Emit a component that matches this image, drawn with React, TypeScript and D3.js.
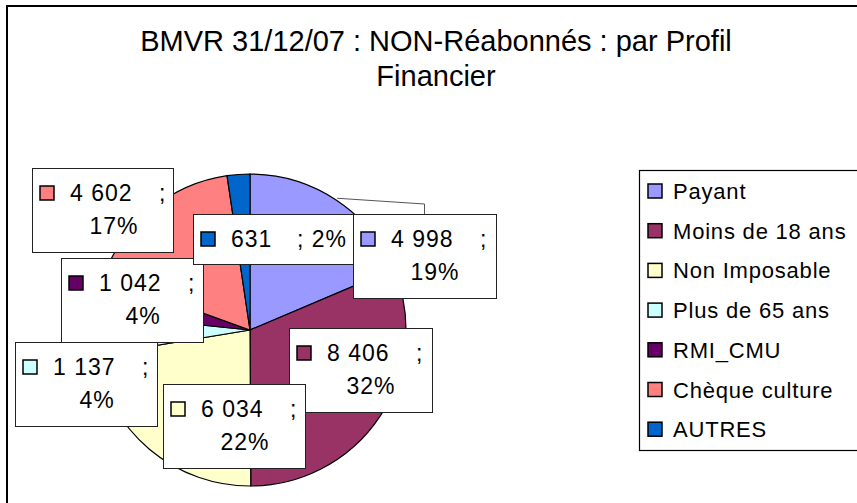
import { useEffect, useRef } from "react";
import * as d3 from "d3";

const WIDTH = 857;
const HEIGHT = 503;
const CENTER = { x: 250, y: 330 };
const RADIUS = 156;

const categories = [
  "Payant",
  "Moins de 18 ans",
  "Non Imposable",
  "Plus de 65 ans",
  "RMI_CMU",
  "Chèque culture",
  "AUTRES",
];
const values = [4998, 8406, 6034, 1137, 1042, 4602, 631];
// percentages as printed on the labels
const percentLabels = ["19%", "32%", "22%", "4%", "4%", "17%", "2%"];
const colors = ["#9999FF", "#993366", "#FFFFCC", "#CCFFFF", "#660066", "#FF8080", "#0066CC"];

// label box placement (top-left corner), same order as categories
const LABEL_BOXES = [
  { x: 353, y: 214, w: 143, h: 84, leader: true },
  { x: 289, y: 328, w: 143, h: 84 },
  { x: 163, y: 384, w: 142, h: 84 },
  { x: 15, y: 342, w: 142, h: 84 },
  { x: 61, y: 258, w: 142, h: 84 },
  { x: 32, y: 168, w: 141, h: 84 },
  { x: 193, y: 214, w: 160, h: 50, oneLine: true },
];

const FONT = "'Liberation Sans', Arial, sans-serif";

type Slice = { label: string; value: number; pct: string; color: string };

export default function App() {
  const svgRef = useRef<SVGSVGElement | null>(null);

  useEffect(() => {
    if (!svgRef.current) return;
    const svg = d3.select(svgRef.current);
    svg.selectAll("*").remove();

    const data: Slice[] = categories.map((c, i) => ({
      label: c,
      value: values[i],
      pct: percentLabels[i],
      color: colors[i],
    }));

    const fmt = d3.formatLocale({ decimal: ",", thousands: " ", grouping: [3], currency: ["", "€"] }).format(",d");

    // chart frame (right and bottom edges fall outside the picture)
    svg
      .append("rect")
      .attr("x", 7)
      .attr("y", 6)
      .attr("width", WIDTH + 20)
      .attr("height", HEIGHT + 20)
      .attr("fill", "#fff")
      .attr("stroke", "#000")
      .attr("stroke-width", 2);

    // Title
    const title = svg
      .append("text")
      .attr("text-anchor", "middle")
      .attr("font-family", FONT)
      .style("font-size", "29px")
      .attr("fill", "#000");
    title.append("tspan").attr("x", 436).attr("y", 51).text("BMVR 31/12/07 : NON-Réabonnés : par Profil");
    title.append("tspan").attr("x", 436).attr("y", 86).text("Financier");

    // Pie
    const pie = d3
      .pie<Slice>()
      .sort(null)
      .value((d) => d.value);
    const arcs = pie(data);
    const arc = d3.arc<d3.PieArcDatum<Slice>>().innerRadius(0).outerRadius(RADIUS);

    const g = svg.append("g").attr("transform", `translate(${CENTER.x},${CENTER.y})`);
    g.selectAll("path")
      .data(arcs)
      .enter()
      .append("path")
      .attr("d", arc)
      .attr("fill", (d) => d.data.color)
      .attr("stroke", "#000")
      .attr("stroke-width", 1.2);

    // Data labels
    arcs.forEach((a, i) => {
      const box = LABEL_BOXES[i];
      if (box.leader) {
        const mid = (a.startAngle + a.endAngle) / 2;
        const sx = CENTER.x + Math.sin(mid) * (RADIUS + 2);
        const sy = CENTER.y - Math.cos(mid) * (RADIUS + 2);
        const cx = box.x + box.w / 2;
        svg
          .append("polyline")
          .attr("points", `${sx},${sy} ${cx},${box.y - 10} ${cx},${box.y}`)
          .attr("fill", "none")
          .attr("stroke", "#555")
          .attr("stroke-width", 1);
      }
      const lg = svg.append("g").attr("transform", `translate(${box.x},${box.y})`);
      lg.append("rect")
        .attr("x", 0.5)
        .attr("y", 0.5)
        .attr("width", box.w)
        .attr("height", box.h)
        .attr("fill", "#fff")
        .attr("stroke", "#222")
        .attr("stroke-width", 1);
      lg.append("rect")
        .attr("x", 8)
        .attr("y", 18)
        .attr("width", 14)
        .attr("height", 14)
        .attr("fill", a.data.color)
        .attr("stroke", "#000")
        .attr("stroke-width", 1.5);
      const txt = (x: number, y: number, s: string, anchor = "start") =>
        lg
          .append("text")
          .attr("x", x)
          .attr("y", y)
          .attr("text-anchor", anchor)
          .attr("font-family", FONT)
          .style("font-size", "23px")
          .style("letter-spacing", "1px")
          .attr("fill", "#000")
          .text(s);
      txt(38, 33, fmt(a.data.value));
      if (box.oneLine) {
        txt(104, 33, "; " + a.data.pct);
      } else {
        txt(127, 33, ";");
        txt(82, 66, a.data.pct, "middle");
      }
    });

    // Legend
    const leg = svg.append("g").attr("transform", "translate(639,170)");
    leg
      .append("rect")
      .attr("x", 0.5)
      .attr("y", 0.5)
      .attr("width", 260)
      .attr("height", 280)
      .attr("fill", "#fff")
      .attr("stroke", "#000")
      .attr("stroke-width", 1.2);
    data.forEach((d, i) => {
      const cy = 21 + i * 39.7;
      leg
        .append("rect")
        .attr("x", 9)
        .attr("y", cy - 7)
        .attr("width", 14)
        .attr("height", 14)
        .attr("fill", d.color)
        .attr("stroke", "#000")
        .attr("stroke-width", 1.5);
      leg
        .append("text")
        .attr("x", 34)
        .attr("y", cy + 8)
        .attr("font-family", FONT)
        .style("font-size", "22px")
        .style("letter-spacing", "0.8px")
        .attr("fill", "#000")
        .text(d.label);
    });
  }, []);

  return (
    <svg
      ref={svgRef}
      width={WIDTH}
      height={HEIGHT}
      style={{ position: "absolute", left: 0, top: 0, background: "#fff" }}
    />
  );
}
